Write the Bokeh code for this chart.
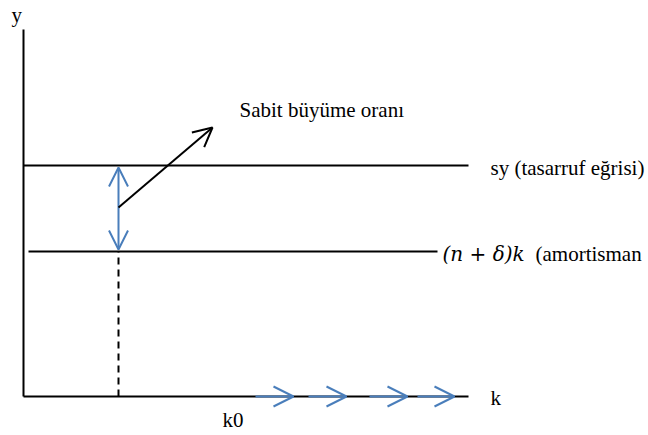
from bokeh.plotting import figure
from bokeh.models import Range1d, Arrow, OpenHead, ColumnDataSource
from bokeh.core.properties import value
from bokeh.embed import file_html
from bokeh.resources import INLINE

# Solow diagram: saving line, depreciation line, steady-state capital k0
k_axis_end = 445
y_axis_top = 367
sy_level = 231          # sy (saving curve)
dep_level = 145         # (n + delta) k (depreciation)
dep_start = 5
dep_end = 414
k0 = 95

# growth arrow
growth_start = (95, 189)
growth_end = (189, 269)

# flow arrows along the k axis
flow_starts = [232, 285, 346, 394]
flow_ends = [270, 323, 384, 431]

BLUE = "#4a7ebb"
SERIF = "'Liberation Serif', 'Times New Roman', serif"
MATH = "'DejaVu Serif', serif"

p = figure(width=648, height=435, x_range=Range1d(-23, 625), y_range=Range1d(-39, 396),
           output_backend="svg", toolbar_location=None, min_border=0,
           x_axis_location=None, y_axis_location=None)
p.grid.visible = False
p.outline_line_color = None
p.background_fill_color = "white"

# axes
p.line([0, 0], [0, y_axis_top], line_color="black", line_width=2)
p.line([0, k_axis_end], [0, 0], line_color="black", line_width=2)

# saving and depreciation lines
p.line([0, k_axis_end], [sy_level, sy_level], line_color="black", line_width=1.8)
p.line([dep_start, dep_end], [dep_level, dep_level], line_color="black", line_width=1.8)

# dashed drop line at k0
p.line([k0, k0], [0, dep_level], line_color="black", line_width=2, line_dash="7 5")

# blue double arrow between the two lines
gap = ColumnDataSource(dict(x0=[k0], y0=[dep_level + 2], x1=[k0], y1=[sy_level - 2]))
p.add_layout(Arrow(source=gap, x_start="x0", y_start="y0", x_end="x1", y_end="y1",
                   line_color=BLUE, line_width=2,
                   start=OpenHead(size=19, line_color=BLUE, line_width=2),
                   end=OpenHead(size=19, line_color=BLUE, line_width=2)))

# black growth arrow
grow = ColumnDataSource(dict(x0=[growth_start[0]], y0=[growth_start[1]],
                             x1=[growth_end[0]], y1=[growth_end[1]]))
p.add_layout(Arrow(source=grow, x_start="x0", y_start="y0", x_end="x1", y_end="y1",
                   line_color="black", line_width=2,
                   end=OpenHead(size=19, line_color="black", line_width=2)))

# flow arrows on the k axis
flows = ColumnDataSource(dict(x0=flow_starts, x1=flow_ends, y=[0] * len(flow_starts)))
p.add_layout(Arrow(source=flows, x_start="x0", y_start="y", x_end="x1", y_end="y",
                   line_color=BLUE, line_width=2,
                   end=OpenHead(size=20, line_color=BLUE, line_width=2)))

# labels
def label(x, y, txt, font=SERIF, style="normal", size="21px"):
    p.text(x=[x], y=[y], text=[txt], text_font=value(font), text_font_style=style,
           text_font_size=size, text_color="black", text_baseline="middle",
           text_align="left")

label(-12, 382, "y")
label(216, 287, "Sabit büyüme oranı")
label(467, 229, "sy (tasarruf eğrisi)")
label(419, 143, "(n + δ)k", font=MATH, style="italic", size="20px")
label(512, 143, "(amortisman")
label(467, -1, "k")
label(199, -23, "k0")

open("out.html", "w").write(file_html(p, INLINE))
